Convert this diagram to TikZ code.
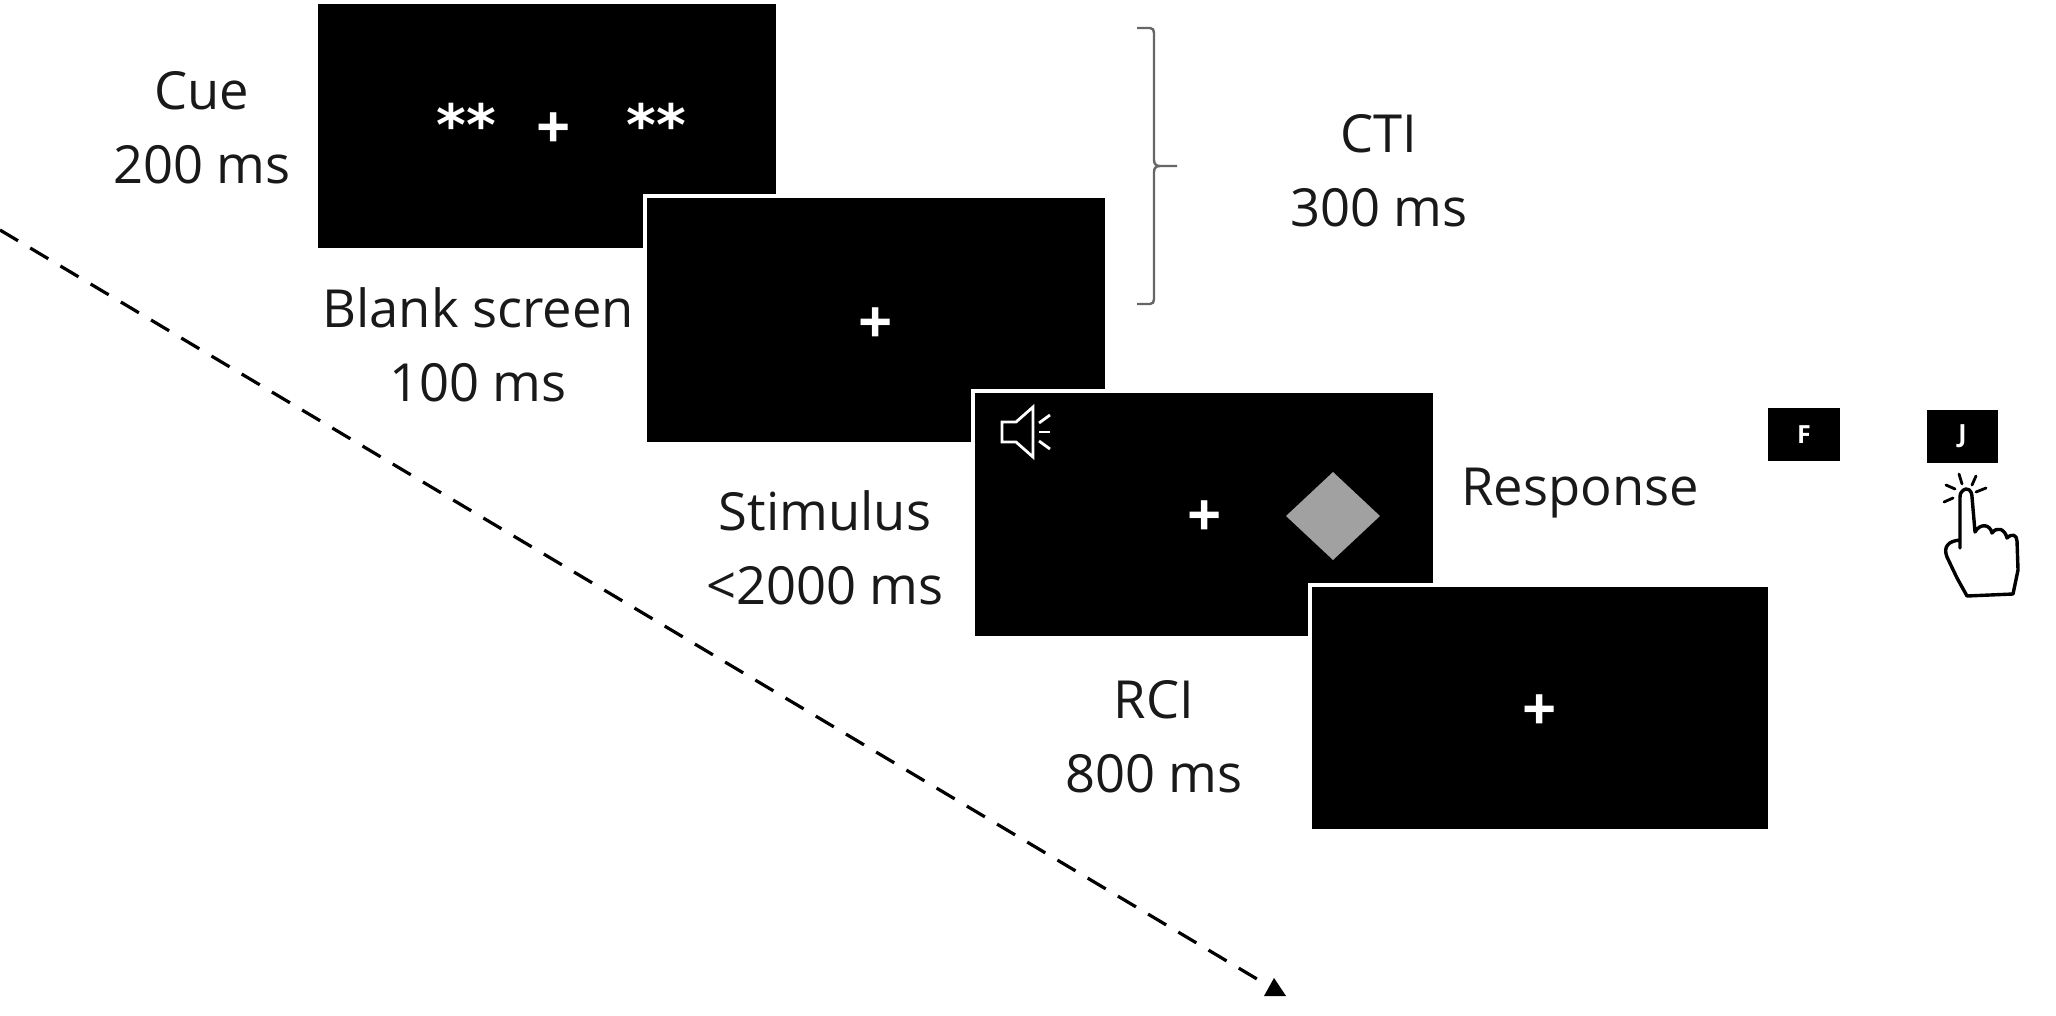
\documentclass[tikz,border=0pt]{standalone}
\usepackage{fontspec}
\setmainfont{Open Sans}
\newfontfamily\starfont{DejaVu Sans}
\tikzset{
  screen/.style={rectangle,fill=black,draw=white,line width=4pt,inner sep=0pt,minimum width=#1},
  screen/.default=462pt,
  lab/.style={align=center,inner sep=0pt,text=black!90,font=\fontsize{52.5pt}{74pt}\selectfont},
  fix/.style={text=white,inner sep=0pt,font=\bfseries\fontsize{60pt}{60pt}\selectfont},
  stars/.style={text=white,inner sep=0pt,font=\starfont\bfseries\fontsize{57pt}{57pt}\selectfont},
  keycap/.style={rectangle,fill=black,inner sep=0pt,text=white,minimum width=72pt,minimum height=53pt,font=\bfseries\fontsize{25pt}{25pt}\selectfont},
  icon/.style={draw=white,line width=2.8pt},
  handline/.style={draw=black,line width=3.4pt,line join=round,line cap=round},
}
\begin{document}
\begin{tikzpicture}[x=1pt,y=-1pt]
\useasboundingbox (0,0) rectangle (2056,1015);
% screens
\node[screen=462pt,minimum height=248pt] (s1) at (547.2,126) {};
\node[screen=462pt,minimum height=248pt] (s2) at (876,320) {};
\node[screen=462pt,minimum height=247pt] (s3) at (1204,514.5) {};
\node[screen=460pt,minimum height=246pt] (s4) at (1540,708) {};
% fixations
\node[fix] (f1) at (554,131) {+};
\node[fix] (f2) at (876,326) {+};
\node[fix] (f3) at (1205,519) {+};
\node[fix] (f4) at (1540,713) {+};
\node[stars] (c1) at (466,124) {**};
\node[stars] (c2) at (656,124) {**};
% diamond
\fill[fill=black!37] (1333,472) -- (1380,516) -- (1333,560) -- (1286,516) -- cycle;
% speaker
\draw[icon,line join=miter] (1002,422) -- (1016,422) -- (1033,407) -- (1033,457) -- (1016,442) -- (1002,442) -- cycle;
\draw[icon] (1039,423) -- (1050,415);
\draw[icon] (1039,432) -- (1050,432);
\draw[icon] (1039,441) -- (1050,449);
% labels
\node[lab] (l1) at (202,128) {Cue\\200 ms};
\node[lab] (l2) at (478,345) {Blank screen\\100 ms};
\node[lab] (l3) at (825,548) {Stimulus\\<2000 ms};
\node[lab] (l4) at (1154,737) {RCI\\800 ms};
\node[lab] (l5) at (1379,171) {CTI\\300 ms};
\node[lab] (l6) at (1580,493) {Response};
% keys
\node[keycap] (kf) at (1804,434.5) {F};
\node[keycap,minimum width=71pt] (kj) at (1962.5,436.5) {J};
% hand
\draw[handline] (1960,548) -- (1960,497) .. controls (1960,490) and (1966,489) .. (1966,489)
  .. controls (1971,489) and (1972,494) .. (1972,497) -- (1975,532)
  .. controls (1980,523) and (1990,524) .. (1992,533)
  .. controls (1997,526) and (2005,529) .. (2007,538)
  .. controls (2012,533) and (2017,535) .. (2017,541)
  -- (2018,570) -- (2013,594) -- (1967,596) -- (1957,578) -- (1947,557)
  .. controls (1943,547) and (1948,541) .. (1960,540);
\draw[handline,line width=2.8pt] (1959,474) -- (1962,484);
\draw[handline,line width=2.8pt] (1976,476) -- (1972,485);
\draw[handline,line width=2.8pt] (1946,485) -- (1955,489);
\draw[handline,line width=2.8pt] (1986,488) -- (1976,492);
\draw[handline,line width=2.8pt] (1944,502) -- (1953,498);
% bracket
\coordinate (bt) at (1137,28);
\coordinate (bb) at (1137,304);
\coordinate (bm) at (1177,166);
\draw[black!60,line width=2.4pt,line join=round] (bt) -- (1150,28) .. controls (1153,28) and (1154,30) .. (1154,33)
  -- (1154,160) .. controls (1154,164) and (1156,166) .. (1160,166) -- (bm)
  (1160,166) .. controls (1156,166) and (1154,168) .. (1154,172) -- (1154,299)
  .. controls (1154,302) and (1153,304) .. (1150,304) -- (bb);
% time axis
\coordinate (ts) at (0,230);
\coordinate (te) at (1257,979);
\draw[black,line width=3.2pt,dash pattern=on 21pt off 14.17pt] (ts) -- (te);
\fill[black] (1274,978) -- (1286,996) -- (1264,996) -- cycle;
\end{tikzpicture}
\end{document}
